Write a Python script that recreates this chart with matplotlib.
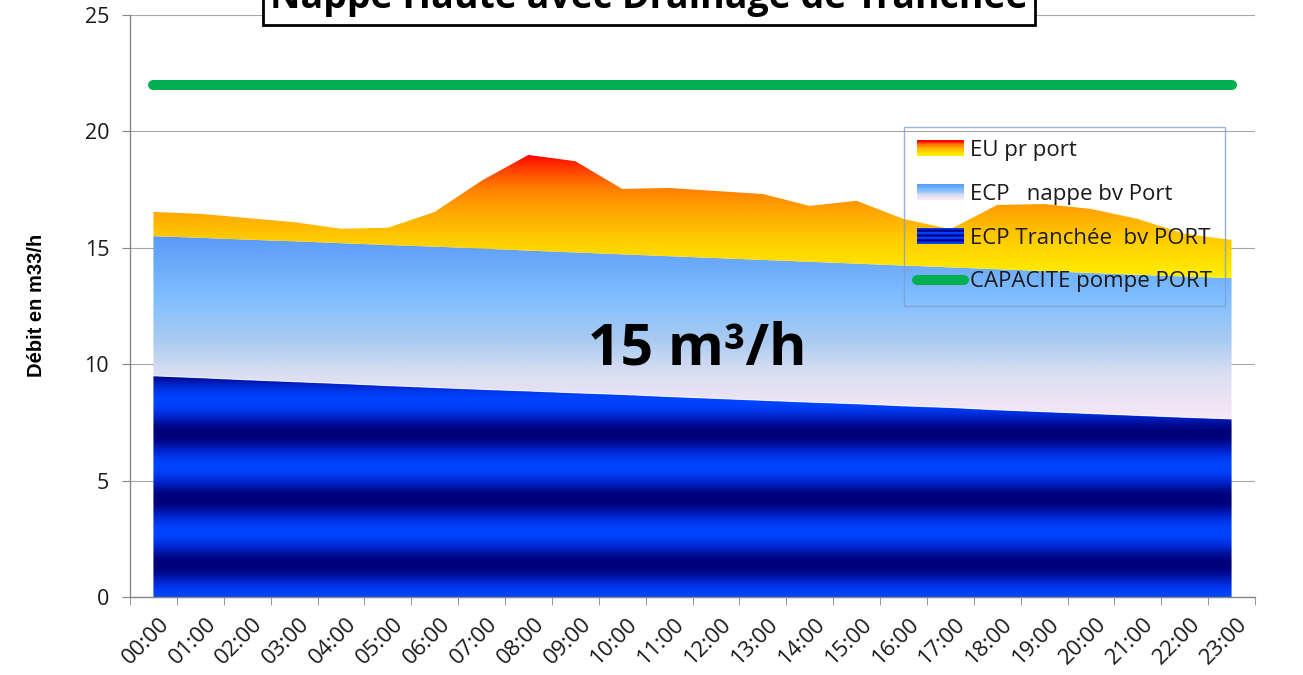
import numpy as np
import matplotlib
matplotlib.use("Agg")
import matplotlib.pyplot as plt
import matplotlib.transforms as mtransforms
from matplotlib import font_manager
from matplotlib.colors import LinearSegmentedColormap
from matplotlib.legend_handler import HandlerBase
from matplotlib.patches import Rectangle, Patch
from matplotlib.lines import Line2D

# data (m3/h per hour)
hours = ['%02d:00' % h for h in range(24)]
tranchee = [9.50, 9.42, 9.33, 9.25, 9.17, 9.08, 9.00, 8.92, 8.85, 8.77, 8.70, 8.61,
            8.53, 8.45, 8.37, 8.30, 8.21, 8.14, 8.04, 7.96, 7.88, 7.80, 7.72, 7.65]
nappe = [6.00, 6.01, 6.02, 6.03, 6.03, 6.04, 6.05, 6.05, 6.03, 6.03, 6.02, 6.03,
         6.03, 6.03, 6.03, 6.02, 6.03, 6.02, 6.04, 6.04, 6.04, 6.04, 6.05, 6.05]
eu = [1.04, 1.03, 0.93, 0.82, 0.62, 0.74, 1.49, 2.91, 4.11, 3.92, 2.81, 2.93,
      2.88, 2.83, 2.40, 2.70, 2.00, 1.64, 2.76, 2.88, 2.75, 2.40, 1.83, 1.64]
capacite = [22] * 24

labels = ['EU pr port', 'ECP   nappe bv Port', 'ECP Tranchée  bv PORT', 'CAPACITE pompe PORT']
title = 'Nappe Haute avec Drainage de Tranchée'
note = '15 m³/h'

plt.rcParams['font.family'] = ['Open Sans', 'DejaVu Sans']

# colour ramps (bottom -> top)
eu_cmap = LinearSegmentedColormap.from_list('eu', [
    (0.0, '#FFF000'), (0.34, '#FFC800'), (0.53, '#FFA800'),
    (0.72, '#FF8000'), (0.88, '#FF4000'), (1.0, '#FF0000')])
nappe_cmap = LinearSegmentedColormap.from_list('nappe', [
    (0.0, '#F8E8F6'), (0.25, '#DADEF1'), (0.43, '#A9CBF1'),
    (0.65, '#82BFFF'), (1.0, '#5B9BF7')])
stripe_cmap = LinearSegmentedColormap.from_list('stripe', ['#000078', '#0022C8', '#0044FF'])


def stripes(y, period=2.8):
    return (1 + np.cos(2 * np.pi * y / period)) / 2


class GradHandler(HandlerBase):
    def __init__(self, colors):
        super().__init__()
        self.colors = colors

    def create_artists(self, legend, orig_handle, xdescent, ydescent,
                       width, height, fontsize, trans):
        n = len(self.colors)
        out = []
        for i, c in enumerate(self.colors):
            # colors listed top -> bottom
            r = Rectangle((-xdescent, -ydescent + height * (n - 1 - i) / n),
                          width, height / n + 0.3, facecolor=c,
                          edgecolor='none', transform=trans)
            out.append(r)
        return out


fig = plt.figure(figsize=(13.03, 6.75), dpi=100)
ax = fig.add_axes([130 / 1303, 78 / 675, 1125 / 1303, 582 / 675])

x = np.arange(24)
t = np.array(tranchee)
n_top = t + np.array(nappe)
e_top = n_top + np.array(eu)


def grad_fill(lower, upper, cmap, values=None, ylo=None, yhi=None):
    poly = ax.fill_between(x, lower, upper, facecolor='none', edgecolor='none')
    if ylo is None:
        ylo, yhi = np.min(lower), np.max(upper)
    if values is None:
        values = np.linspace(0, 1, 256)
    im = ax.imshow(values.reshape(-1, 1), extent=[0, 23, ylo, yhi], origin='lower',
                   cmap=cmap, aspect='auto', interpolation='bilinear', zorder=2)
    im.set_clip_path(poly.get_paths()[0], transform=ax.transData)
    return im


yy = np.linspace(0, t.max(), 800)
grad_fill(np.zeros(24), t, stripe_cmap, values=stripes(yy), ylo=0, yhi=t.max())
grad_fill(t, n_top, nappe_cmap)
grad_fill(n_top, e_top, eu_cmap)
ax.plot(x, t, color='white', lw=0.8, alpha=0.7, zorder=3)

ax.plot(x, capacite, color='#00B050', lw=7.2, solid_capstyle='round', zorder=4)

ax.set_xlim(-0.5, 23.5)
ax.set_ylim(0, 25)
ax.set_yticks(range(0, 26, 5))
ax.set_xticks(x)
ax.set_xticks(np.arange(-0.5, 24, 1), minor=True)
ax.grid(axis='y', color='#A6A6A6', lw=0.8, zorder=0)
ax.set_axisbelow(True)
for s in ['top', 'right']:
    ax.spines[s].set_visible(False)
for s in ['left', 'bottom']:
    ax.spines[s].set_color('#868686')
    ax.spines[s].set_linewidth(1.0)
ax.tick_params(axis='y', length=6, color='#868686', pad=9, labelsize=15.5,
               labelcolor='#1A1A1A')
ax.tick_params(axis='x', which='major', length=0, pad=12, labelsize=16,
               labelcolor='#1A1A1A')
ax.tick_params(axis='x', which='minor', length=6, color='#868686')
ax.set_xticklabels(hours, rotation=45, ha='right', va='top', rotation_mode='anchor')
off = mtransforms.ScaledTranslation(5 / 100, 0, fig.dpi_scale_trans)
for lab in ax.get_xticklabels():
    lab.set_transform(lab.get_transform() + off)

# y label in a narrow bold face when available
try:
    font_manager.findfont('Liberation Sans Narrow', fallback_to_default=False)
    yfam, ysize = ['Liberation Sans Narrow', 'DejaVu Sans'], 18
except Exception:
    yfam, ysize = ['Liberation Sans', 'DejaVu Sans'], 14.5
fig.text(37 / 1303, 1 - 305 / 675, 'Débit en m33/h', rotation=90, ha='center',
         va='center', fontsize=ysize, fontweight='bold', family=yfam)

ax.text(11.6, 10.0, note, ha='center', va='baseline', fontsize=41,
        fontweight='bold', color='black', zorder=6)

fig.text(649 / 1303, 1 - 8 / 675, title, ha='center', va='baseline', fontsize=27,
         fontweight='bold', color='black',
         bbox=dict(boxstyle='square,pad=0.2', fc='white', ec='black', lw=2))

# legend with gradient swatches
h_eu = Patch()
h_np = Patch()
h_tr = Patch()
h_cap = Line2D([], [], color='#00B050', lw=7.2, solid_capstyle='round')
eu_cols = [eu_cmap(v) for v in np.linspace(1, 0, 12)]
np_cols = [nappe_cmap(v) for v in np.linspace(1, 0, 12)]
tr_cols = [stripe_cmap(v) for v in stripes(np.linspace(0, 3 * 2.8, 24))]
leg = ax.legend([h_eu, h_np, h_tr, h_cap], labels,
                handler_map={h_eu: GradHandler(eu_cols), h_np: GradHandler(np_cols),
                             h_tr: GradHandler(tr_cols)},
                loc='upper left', bbox_to_anchor=(904 / 1303, 1 - 127 / 675),
                bbox_transform=fig.transFigure, fontsize=16, frameon=True,
                fancybox=False, borderpad=0.6, labelspacing=1.02,
                handlelength=2.1, handletextpad=0.25, borderaxespad=0)
leg.get_frame().set_facecolor('none')
leg.get_frame().set_edgecolor('#7F9FCF')
leg.get_frame().set_linewidth(1.0)
leg.set_zorder(7)
for txt in leg.get_texts():
    txt.set_color('#1A1A1A')

fig.savefig('out.png', dpi=100)
